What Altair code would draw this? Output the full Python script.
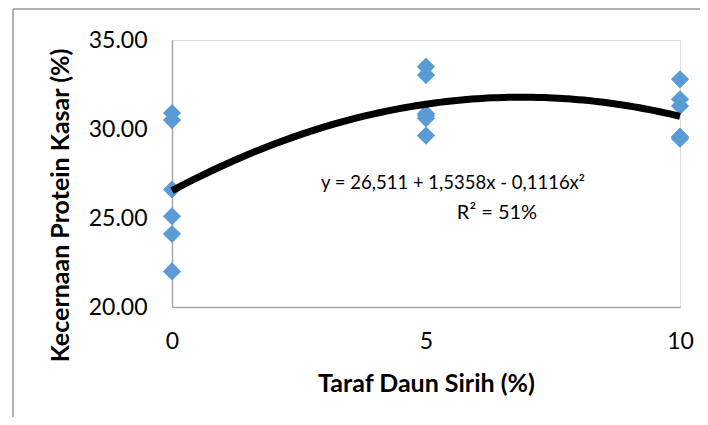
import altair as alt
import pandas as pd

# data
taraf = [0, 0, 0, 0, 0, 0,
         5, 5, 5, 5, 5, 5,
         10, 10, 10, 10, 10, 10]
kecernaan = [30.9, 30.5, 26.6, 25.1, 24.1, 22.0,
             33.5, 33.03, 30.85, 30.75, 30.6, 29.63,
             32.79, 31.67, 31.29, 29.57, 29.5, 29.45]
x_ticks = [0, 5, 10]
y_ticks = [20, 25, 30, 35]
eq_text = "y = 26,511 + 1,5358x - 0,1116x²"
r2_text = "R² = 51%"

df = pd.DataFrame({"x": taraf, "y": kecernaan})

FONT = "Lato"
W, H = 508, 267

xs = alt.Scale(domain=[0, 10], nice=False, zero=False)
ys = alt.Scale(domain=[20, 35], nice=False, zero=False)

xaxis = alt.Axis(values=x_ticks, format="d", title="Taraf Daun Sirih (%)",
                 grid=False, ticks=False, domainColor="#a6a6a6", domainWidth=1.5,
                 labelFlush=False, labelOverlap=False,
                 labelFont=FONT, labelFontSize=23, labelColor="#000000", labelPadding=23,
                 titleFont=FONT, titleFontSize=25, titleFontWeight="bold",
                 titleColor="#000000", titlePadding=18)
yaxis = alt.Axis(values=y_ticks, format=".2f", title="Kecernaan Protein Kasar (%)",
                 grid=False, ticks=False, domainColor="#a6a6a6", domainWidth=1.5,
                 labelFlush=False, labelOverlap=False,
                 labelFont=FONT, labelFontSize=23, labelColor="#000000", labelPadding=25,
                 titleFont=FONT, titleFontSize=25, titleFontWeight="bold",
                 titleColor="#000000", titlePadding=15, titleY=165)

base = alt.Chart(df)

points = base.mark_point(shape="diamond", filled=True, size=330, opacity=1,
                         color="#5b9bd5").encode(
    x=alt.X("x:Q", scale=xs, axis=xaxis),
    y=alt.Y("y:Q", scale=ys, axis=yaxis),
)

trend = base.transform_regression("x", "y", method="poly", order=2,
                                  extent=[0, 10]).mark_line(
    color="#000000", strokeWidth=7, strokeCap="butt").encode(
    x=alt.X("x:Q", scale=xs),
    y=alt.Y("y:Q", scale=ys),
)

eq = alt.Chart(pd.DataFrame({"t": [eq_text]})).mark_text(
    font=FONT, fontSize=18.5, color="#000000", align="center", baseline="middle"
).encode(x=alt.value(281), y=alt.value(143), text="t:N")

r2 = alt.Chart(pd.DataFrame({"t": [r2_text]})).mark_text(
    font=FONT, fontSize=20, color="#000000", align="center", baseline="middle"
).encode(x=alt.value(325), y=alt.value(173), text="t:N")

frame_left = alt.Chart(pd.DataFrame({"a": [0]})).mark_rule(
    color="#9a9a9a", strokeWidth=1.5).encode(
    x=alt.value(-159), y=alt.value(-31), y2=alt.value(400))
frame_top = alt.Chart(pd.DataFrame({"a": [0]})).mark_rule(
    color="#9a9a9a", strokeWidth=1.5).encode(
    x=alt.value(-159), x2=alt.value(560), y=alt.value(-31))

chart = alt.layer(frame_left, frame_top, points, trend, eq, r2).properties(
    width=W, height=H,
    autosize=alt.AutoSizeParams(type="none"),
    padding={"left": 164, "top": 32, "right": 20, "bottom": 110},
).configure_view(stroke=None).configure(background="#ffffff")

chart.save("out.html", embed_options={"renderer": "svg", "actions": False})
